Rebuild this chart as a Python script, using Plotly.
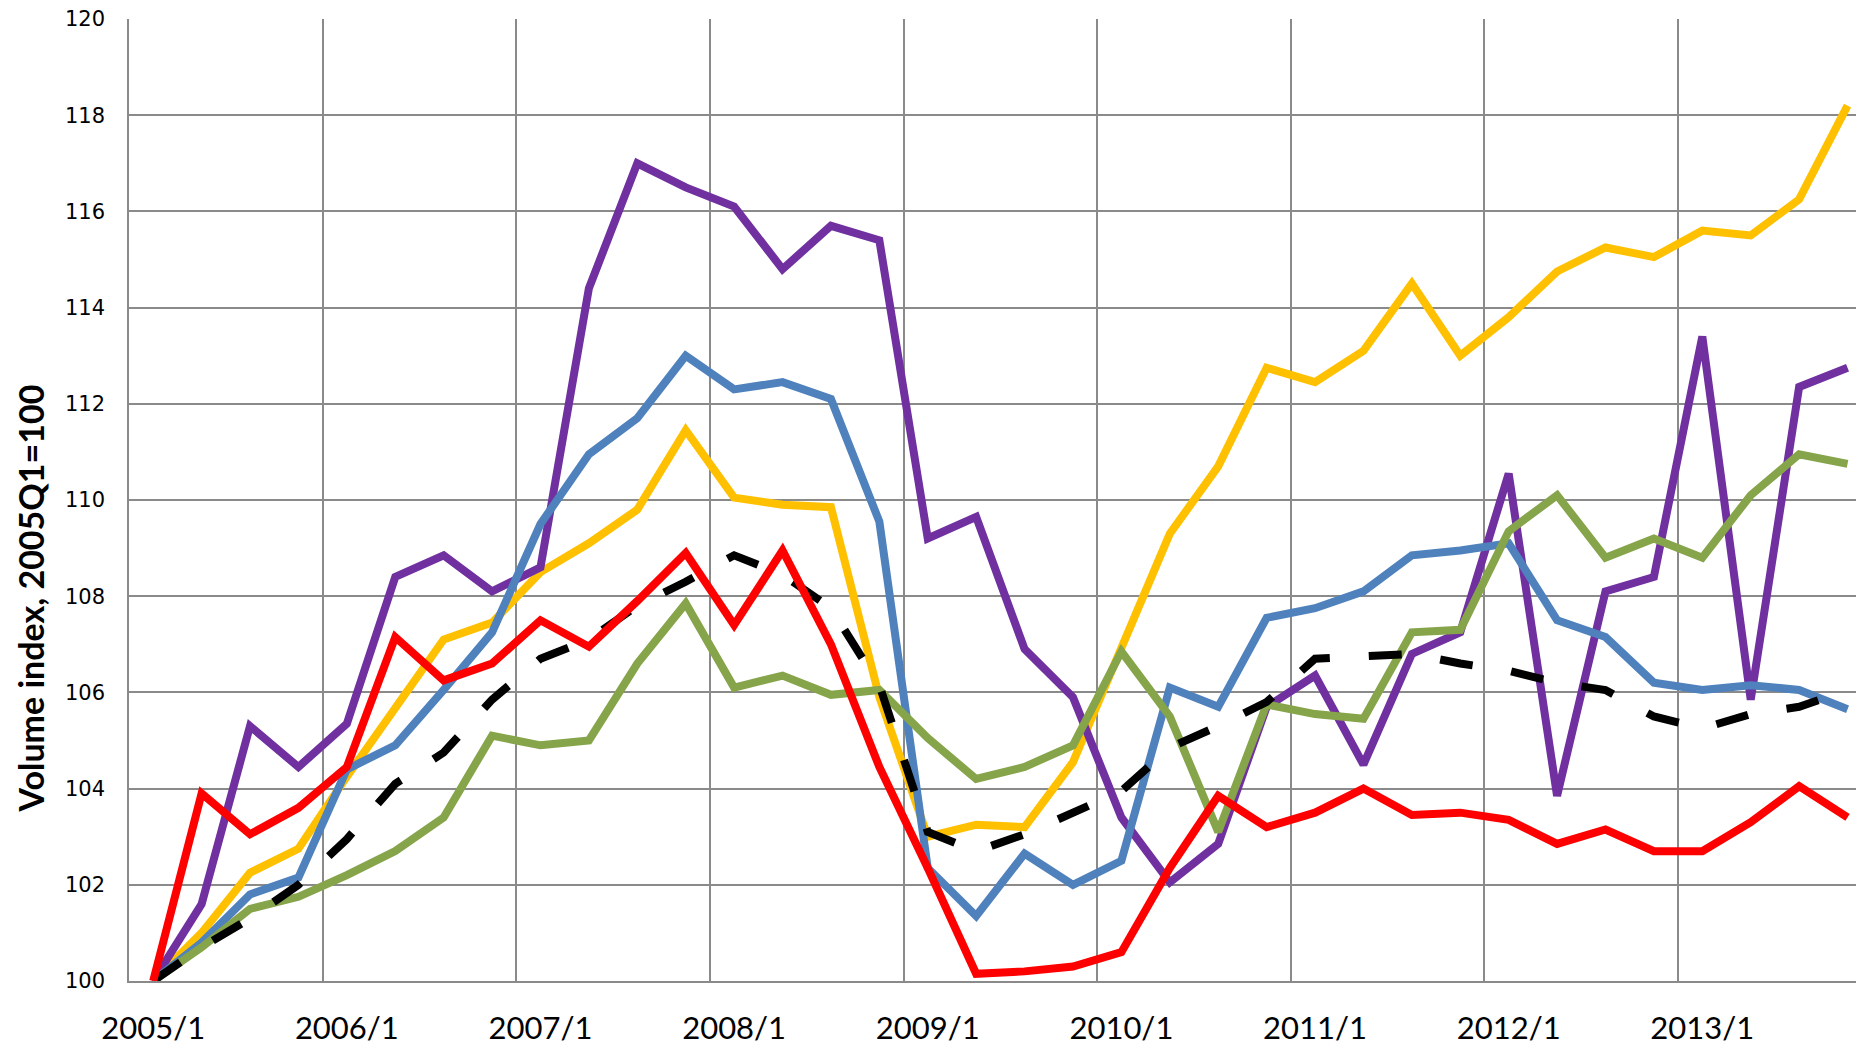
import plotly.graph_objects as go

years = list(range(2005, 2014))
quarters = [f"{y}/{q}" for y in years for q in (1, 2, 3, 4)]

purple = [100, 101.6, 105.3, 104.45, 105.35, 108.4, 108.85, 108.1, 108.6, 114.4,
          117.0, 116.5, 116.1, 114.8, 115.7, 115.4, 109.2, 109.65, 106.9, 105.9,
          103.4, 102.05, 102.85, 105.7, 106.35, 104.5, 106.8, 107.25, 110.55, 103.85,
          108.1, 108.4, 113.4, 105.85, 112.35, 112.75]
blue = [100, 100.8, 101.8, 102.15, 104.4, 104.9, 106.05, 107.25, 109.5, 110.95,
        111.7, 113.0, 112.3, 112.45, 112.1, 109.55, 102.35, 101.35, 102.65, 102.0,
        102.5, 106.1, 105.7, 107.55, 107.75, 108.1, 108.85, 108.95, 109.1, 107.5,
        107.15, 106.2, 106.05, 106.15, 106.05, 105.65]
yellow = [100, 101.0, 102.25, 102.75, 104.25, 105.65, 107.1, 107.45, 108.5, 109.1,
          109.8, 111.45, 110.05, 109.9, 109.85, 105.9, 103.0, 103.25, 103.2, 104.55,
          106.95, 109.3, 110.7, 112.75, 112.45, 113.1, 114.5, 113.0, 113.8, 114.75,
          115.25, 115.05, 115.6, 115.5, 116.25, 118.2]
green = [100, 100.7, 101.5, 101.75, 102.2, 102.7, 103.4, 105.1, 104.9, 105.0,
         106.6, 107.85, 106.1, 106.35, 105.95, 106.05, 105.05, 104.2, 104.45, 104.9,
         106.85, 105.5, 103.1, 105.75, 105.55, 105.45, 107.25, 107.3, 109.35, 110.1,
         108.8, 109.2, 108.8, 110.1, 110.95, 110.75]
black = [100, 100.7, 101.3, 102.0, 102.95, 104.1, 104.75, 105.85, 106.7, 107.1,
         107.8, 108.3, 108.85, 108.45, 107.75, 106.15, 103.1, 102.7, 103.05, 103.5,
         103.95, 104.85, 105.3, 105.8, 106.7, 106.75, 106.8, 106.6, 106.45, 106.2,
         106.05, 105.5, 105.25, 105.55, 105.7, 106.05]
red = [100, 103.9, 103.05, 103.6, 104.45, 107.15, 106.25, 106.6, 107.5, 106.95,
       107.9, 108.9, 107.4, 108.95, 107.0, 104.45, 102.35, 100.15, 100.2, 100.3,
       100.6, 102.35, 103.85, 103.2, 103.5, 104.0, 103.45, 103.5, 103.35, 102.85,
       103.15, 102.7, 102.7, 103.3, 104.05, 103.4]

series = [
    ("yellow", yellow, "#FFC000", "solid"),
    ("purple", purple, "#7030A0", "solid"),
    ("blue", blue, "#4F81BD", "solid"),
    ("green", green, "#86A44A", "solid"),
    ("black", black, "#000000", "33px,39px"),
    ("red", red, "#FF0000", "solid"),
]

fig = go.Figure()
for name, vals, color, dash in series:
    fig.add_trace(go.Scatter(x=quarters, y=vals, mode="lines", name=name,
                             line=dict(color=color, width=8, dash=dash)))

grid = "#8a8a8a"
fig.update_layout(
    width=1856, height=1039,
    margin=dict(l=121, r=0, t=11, b=66),
    paper_bgcolor="white", plot_bgcolor="white",
    showlegend=False,
    xaxis=dict(type="category", categoryorder="array", categoryarray=quarters,
               range=[-0.5, 35.34], tickmode="linear", tick0=0, dtick=4,
               tickson="boundaries", ticks="", showgrid=True, gridcolor=grid,
               gridwidth=1.5, showline=True, linecolor=grid, linewidth=1.5,
               tickangle=0, automargin=False, ticklabeloverflow="allow",
               tickfont=dict(family="Lato", size=31, color="black"),
               ticklabelstandoff=19),
    yaxis=dict(range=[100, 120], tickmode="linear", tick0=100, dtick=2,
               showgrid=True, gridcolor=grid, gridwidth=1.5, zeroline=False,
               showline=True, linecolor=grid, linewidth=1.5, ticks="",
               automargin=False, ticklabeloverflow="allow",
               tickfont=dict(family="DejaVu Sans", size=21, color="black"),
               ticklabelstandoff=18),
    annotations=[dict(text="<b>Volume index, 2005Q1=100</b>", xref="paper", yref="paper",
                      x=(22 - 121) / 1735, y=(973 - 590.5) / 962, xanchor="center",
                      yanchor="middle", textangle=-90, showarrow=False,
                      font=dict(family="Lato", size=34, color="black"))],
)

fig.write_html("out.html")
